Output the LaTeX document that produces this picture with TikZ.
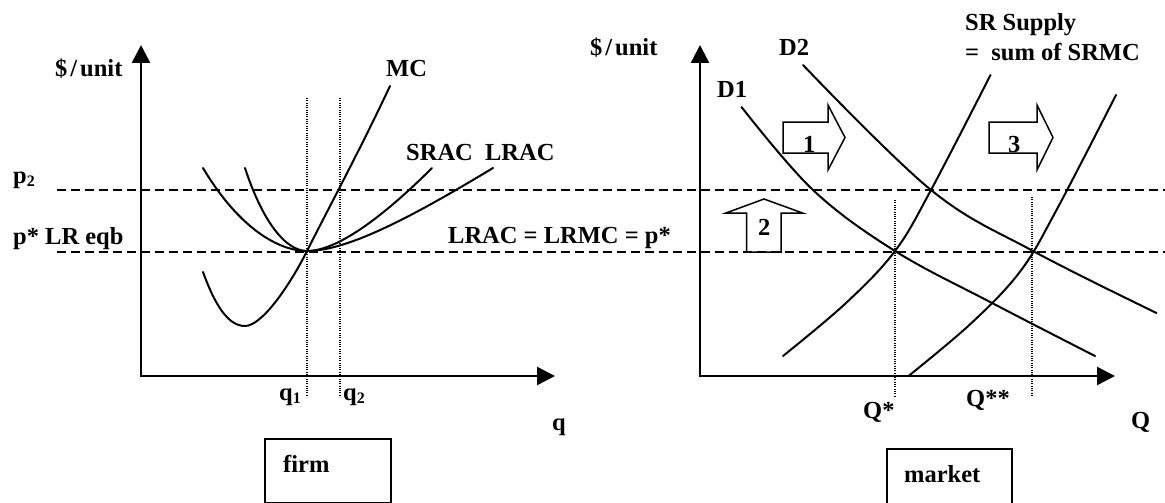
\documentclass[tikz,border=0pt]{standalone}
\usepackage{fontspec}
\setmainfont{Liberation Serif}
\usetikzlibrary{arrows.meta}
\begin{document}
\begin{tikzpicture}[x=1pt,y=-1pt,
  lab/.style={anchor=base west, inner sep=0pt, font=\fontsize{24.5}{29}\selectfont\bfseries},
  curve/.style={line width=2pt, line cap=round},
  axis/.style={line width=2.5pt, {Triangle[length=18pt,width=18pt]}-{Triangle[length=18pt,width=18pt]}},
  dsh/.style={line width=2pt, dash pattern=on 9pt off 5pt},
  dots/.style={line width=1.1pt, dash pattern=on 1pt off 1.3pt},
  blk/.style={line width=1.5pt, line join=miter},
  boxst/.style={draw, line width=1.5pt, inner sep=0pt, anchor=north west}]
\useasboundingbox (0,0) rectangle (1165,503);
\clip (0,0) rectangle (1165,503);
\newcommand{\sub}[1]{\raisebox{-3.5pt}{\fontsize{16}{16}\selectfont #1}}
\newcommand{\perunit}{\$\kern3pt/\kern3pt unit}

% ---------- coordinates ----------
\coordinate (O1) at (141,376);
\coordinate (Y1) at (141,45);
\coordinate (X1) at (555,376);
\coordinate (O2) at (700,376);
\coordinate (Y2) at (700,45);
\coordinate (X2) at (1115,376);
\coordinate (P2a) at (57,190);
\coordinate (P2b) at (1165,190);
\coordinate (PSa) at (57,252);
\coordinate (PSb) at (1165,252);
\coordinate (q1t) at (307,98);
\coordinate (q1b) at (307,397);
\coordinate (q2t) at (340,98);
\coordinate (q2b) at (340,397);
\coordinate (Qst) at (895,200);
\coordinate (Qsb) at (895,397);
\coordinate (Qsst) at (1032,197);
\coordinate (Qssb) at (1032,397);

% ---------- dashed price lines ----------
\draw[dsh] (P2a) -- (P2b);
\draw[dsh] (PSa) -- (PSb);

% ---------- dotted quantity lines ----------
\draw[dots] (q1t) -- (q1b);
\draw[dots] (q2t) -- (q2b);
\draw[dots] (Qst) -- (Qsb);
\draw[dots] (Qsst) -- (Qssb);

% ---------- axes ----------
\draw[axis] (Y1) -- (O1) -- (X1);
\draw[axis] (Y2) -- (O2) -- (X2);

% ---------- firm curves ----------
% LRAC
\draw[curve] (203,168) .. controls (240,230) and (280,251) .. (307,251)
                       .. controls (350,251) and (420,212) .. (493,168);
% SRAC
\draw[curve] (245,168) .. controls (262,220) and (285,251) .. (307,251)
                       .. controls (340,251) and (390,210) .. (432,168);
% MC
\draw[curve] (203,272) .. controls (215,305) and (228,326) .. (245,326)
                       .. controls (262,326) and (290,285) .. (307,251)
                       .. controls (325,215) and (360,150) .. (390,86);

% ---------- market curves ----------
% D1
\draw[curve] plot[smooth, tension=0.6] coordinates {(741.5,107) (813,190) (895,251) (994,304) (1095,356)};
% D2
\draw[curve] plot[smooth, tension=0.6] coordinates {(803,65) (931,190) (1033,251) (1156.5,313)};
% S1
\draw[curve] plot[smooth, tension=0.6] coordinates {(783,356) (846,303) (895,251) (931,190) (990.5,75)};
% S2
\draw[curve, shift={(125.5,20)}] plot[smooth, tension=0.6] coordinates {(783,356) (846,303) (895,251) (931,190) (990.5,75)};

% ---------- block arrows ----------
\draw[blk] (783,122) -- (828,122) -- (828,105) -- (845,137.5) -- (828,170) -- (828,153) -- (783,153) -- cycle;
\node[lab] (n1) at (803,152) {1};
\draw[blk] (989,122) -- (1037,122) -- (1037,105) -- (1053,137.5) -- (1037,170) -- (1037,153) -- (989,153) -- cycle;
\node[lab] (n3) at (1008,152) {3};
\draw[blk] (746.5,252) -- (746.5,213) -- (726,213) -- (764,199) -- (802.5,213) -- (781,213) -- (781,252) -- cycle;
\node[lab] (n2) at (758,235) {2};

% ---------- labels ----------
\node[lab] (yl1) at (55,77) {\perunit};
\node[lab] (mc) at (386,76.5) {MC};
\node[lab] (srac) at (406,160) {SRAC\ \ LRAC};
\node[lab] (p2) at (13,183) {p\sub{2}};
\node[lab] (pstar) at (13,244) {p* LR eqb};
\node[lab] (eq) at (448,243) {LRAC = LRMC = p*};
\node[lab] (q1) at (279,400) {q\sub{1}};
\node[lab] (q2) at (343,400) {q\sub{2}};
\node[lab] (q) at (552,430) {q};

\node[lab] (yl2) at (590,56) {\perunit};
\node[lab] (d2) at (779,56) {D2};
\node[lab] (d1) at (717,98) {D1};
\node[lab] (sr1) at (965,31) {SR Supply};
\node[lab] (sr2) at (965,61) {=\ \ sum of SRMC};
\node[lab] (Qs) at (863,418) {Q*};
\node[lab] (Qss) at (966,406) {Q**};
\node[lab] (Q) at (1131,428) {Q};

% ---------- boxes ----------
\node[boxst, minimum width=126pt, minimum height=64pt] (firmbox) at (264,438) {};
\node[lab] (firm) at (283,472) {firm};
\node[boxst, minimum width=125pt, minimum height=70pt] (marketbox) at (886,448) {};
\node[lab] (market) at (904,482) {market};
\end{tikzpicture}
\end{document}
